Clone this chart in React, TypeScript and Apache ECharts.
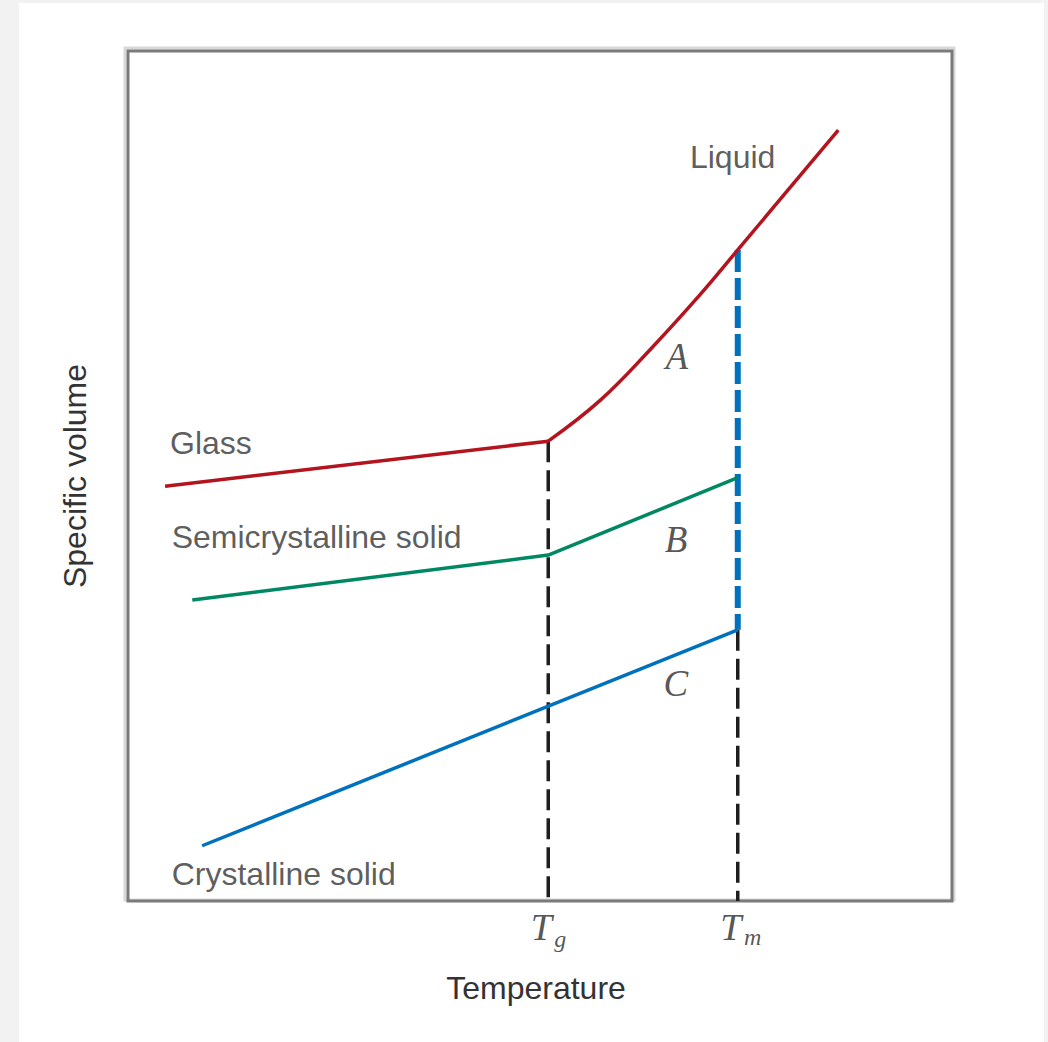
import React, { useEffect, useRef } from "react";
import * as echarts from "echarts";

// Temperature (arbitrary units, 0..100) and specific volume (arbitrary units, 0..100)
const Tg = 51;
const Tm = 74;
const glassLine: number[][] = [[4.5, 48.8], [51, 54.1]];
const liquidLine: number[][] = [[51, 54.1], [57.3, 58.9], [63.3, 64.8], [69.4, 71.3], [74, 76.6], [86.2, 90.7]];
const semicrystallineLine: number[][] = [[7.8, 35.4], [51, 40.7], [74, 49.8]];
const crystallineLine: number[][] = [[9, 6.5], [74, 31.9]];
const tgDrop: number[][] = [[Tg, 54.1], [Tg, 0]];
const tmBlueDrop: number[][] = [[Tm, 76.6], [Tm, 31.9]];
const tmBlackDrop: number[][] = [[Tm, 31.9], [Tm, 0]];

const lineLabels = ["Liquid", "Glass", "Semicrystalline solid", "Crystalline solid"];
const lineLabelPos: number[][] = [[68.2, 87.5], [5.1, 53.9], [5.3, 42.8], [5.3, 3.2]];
const regionLabels = ["A", "B", "C"];
const regionLabelPos: number[][] = [[66.6, 64.1], [66.5, 42.5], [66.5, 25.6]];

const RED = "#b3141d";
const GREEN = "#008763";
const BLUE = "#0071bc";
const TXT = "#333333";
const SANS = "'Liberation Sans', Arial, sans-serif";
const SERIF = "'Liberation Serif', 'Times New Roman', serif";

export default function App() {
  const ref = useRef<HTMLDivElement>(null);
  useEffect(() => {
    const chart = echarts.init(ref.current!, null, { renderer: "svg" });

    const annotations: any[] = [];
    lineLabels.forEach((t, i) => {
      annotations.push({
        value: lineLabelPos[i],
        label: { formatter: t, fontFamily: SANS, fontSize: 32, color: TXT, align: "left", verticalAlign: "middle" },
      });
    });
    regionLabels.forEach((t, i) => {
      annotations.push({
        value: regionLabelPos[i],
        label: { formatter: t, fontFamily: SERIF, fontStyle: "italic", fontSize: 37, color: "#2a2a2a", align: "center", verticalAlign: "middle" },
      });
    });
    const tick = (x: number, sub: string, subOffset: number[]) => {
      annotations.push({
        value: [x, 0],
        label: { formatter: "T", fontFamily: SERIF, fontStyle: "italic", fontSize: 38, color: "#2a2a2a", align: "center", verticalAlign: "middle", offset: [-7, 26] },
      });
      annotations.push({
        value: [x, 0],
        label: { formatter: sub, fontFamily: SERIF, fontStyle: "italic", fontSize: 24, color: "#2a2a2a", align: "center", verticalAlign: "middle", offset: subOffset },
      });
    };
    tick(Tg, "g", [12, 38]);
    tick(Tm, "m", [15, 36]);

    const line = (data: number[][], color: string, width: number, extra: any = {}) => ({
      type: "line",
      data,
      symbol: "none",
      lineStyle: { color, width, ...extra },
      silent: true,
    });

    chart.setOption({
      animation: false,
      backgroundColor: "#f2f2f2",
      graphic: [
        { type: "rect", shape: { x: 19, y: 3, width: 1025, height: 1045 }, style: { fill: "#ffffff" }, z: -10 },
        { type: "rect", shape: { x: 125, y: 48, width: 829, height: 852 }, style: { fill: "none", stroke: "#d8d8d8", lineWidth: 3 }, z: -5 },
      ],
      grid: { left: 128, top: 51, width: 824, height: 850, show: true, borderColor: "#7a7a7a", borderWidth: 3, backgroundColor: "transparent" },
      xAxis: {
        type: "value",
        min: 0,
        max: 100,
        name: "Temperature",
        nameLocation: "middle",
        nameGap: 71,
        nameTextStyle: { fontFamily: SANS, fontSize: 32, color: TXT, padding: [0, 8, 0, 0] },
        axisLine: { show: false },
        axisTick: { show: false },
        axisLabel: { show: false },
        splitLine: { show: false },
      },
      yAxis: {
        type: "value",
        min: 0,
        max: 100,
        name: "Specific volume",
        nameLocation: "middle",
        nameGap: 37,
        nameTextStyle: { fontFamily: SANS, fontSize: 32, color: TXT },
        axisLine: { show: false },
        axisTick: { show: false },
        axisLabel: { show: false },
        splitLine: { show: false },
      },
      series: [
        line(tgDrop, "#1e1e1e", 3.5, { type: [21, 8] }),
        line(tmBlackDrop, "#1e1e1e", 3.5, { type: [21, 8] }),
        line(tmBlueDrop, BLUE, 6, { type: [22, 6] }),
        line(glassLine, RED, 3.5),
        { ...line(liquidLine, RED, 3.5), smooth: 0.4 },
        line(semicrystallineLine, GREEN, 3.5),
        line(crystallineLine, BLUE, 3.5),
        {
          type: "scatter",
          data: annotations,
          symbolSize: 0,
          silent: true,
          z: 10,
          label: { show: true, position: "inside" },
        },
      ],
    });
    return () => chart.dispose();
  }, []);
  return <div ref={ref} style={{ position: "fixed", left: 0, top: 0, width: 1048, height: 1042 }} />;
}
